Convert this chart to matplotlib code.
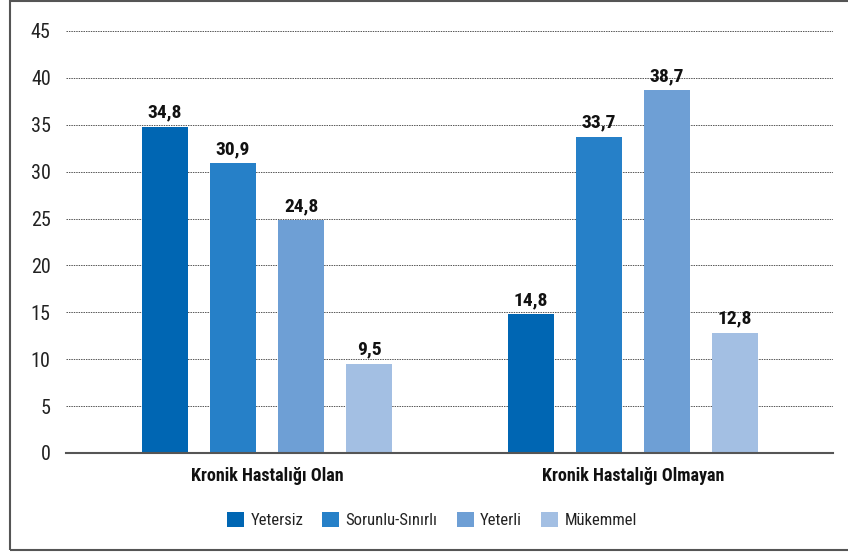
import numpy as np
import matplotlib
matplotlib.use("Agg")
import matplotlib.pyplot as plt
from matplotlib import font_manager
from matplotlib.patches import Rectangle

# Data
groups = ['Kronik Hastalığı Olan', 'Kronik Hastalığı Olmayan']
series = ['Yetersiz', 'Sorunlu-Sınırlı', 'Yeterli', 'Mükemmel']
values = {
    'Yetersiz': [34.8, 14.8],
    'Sorunlu-Sınırlı': [30.9, 33.7],
    'Yeterli': [24.8, 38.7],
    'Mükemmel': [9.5, 12.8],
}
colors = ['#0066b3', '#2680c8', '#6e9fd5', '#a3bfe3']
yticks = [0, 5, 10, 15, 20, 25, 30, 35, 40, 45]

# pick a narrow font if there is one
names = {f.name for f in font_manager.fontManager.ttflist}
fam = 'DejaVu Sans'
for cand in ['Roboto Condensed', 'Archivo Narrow', 'Barlow Semi Condensed', 'Asap Condensed']:
    if cand in names:
        fam = cand
        break
plt.rcParams['font.family'] = [fam, 'DejaVu Sans']

fig = plt.figure(figsize=(8.48, 5.52), dpi=100)
ax = fig.add_axes([66 / 848, 1 - 453 / 552, (833 - 66) / 848, (453 - 31) / 552])

x = np.arange(len(groups))
width = 0.1257
step = 0.1858
for i, name in enumerate(series):
    pos = x + (i - 1.5) * step
    bars = ax.bar(pos, values[name], width, color=colors[i], label=name, zorder=3)
    for b, v in zip(bars, values[name]):
        ax.text(b.get_x() + b.get_width() / 2, v + 0.55, f'{v:.1f}'.replace('.', ','),
                ha='center', va='bottom', fontsize=14, fontweight='bold', color='#111111')

ax.set_xlim(-0.549, 1.546)
ax.set_ylim(0, 45)
ax.set_yticks(yticks)
ax.set_yticklabels([str(t) for t in yticks], fontsize=14.5, color='#222222')
ax.set_xticks(x)
ax.set_xticklabels(groups, fontsize=13, fontweight='bold', color='#111111')
ax.tick_params(axis='both', length=0)
ax.tick_params(axis='y', pad=11)
ax.tick_params(axis='x', pad=10)
ax.yaxis.grid(True, linestyle=(0, (1.5, 1)), color='#555555', linewidth=0.7, zorder=0)
for s in ['top', 'right', 'left']:
    ax.spines[s].set_visible(False)
ax.spines['bottom'].set_color('#555555')
ax.spines['bottom'].set_linewidth(1.5)
ax.spines['bottom'].set_zorder(4)

leg = fig.legend(loc='center', bbox_to_anchor=(432 / 848, 1 - 520 / 552), ncol=4,
                 frameon=False, fontsize=12, handlelength=1.0, handleheight=1.0,
                 handletextpad=0.4, columnspacing=1.15)
for t in leg.get_texts():
    t.set_color('#222222')

# outer frame
fig.patches.append(Rectangle((10 / 848, 2 / 552), 1.0, 1 - 3 / 552, transform=fig.transFigure,
                             fill=False, edgecolor='#555555', linewidth=1.5))

fig.savefig('out.png', dpi=100)
